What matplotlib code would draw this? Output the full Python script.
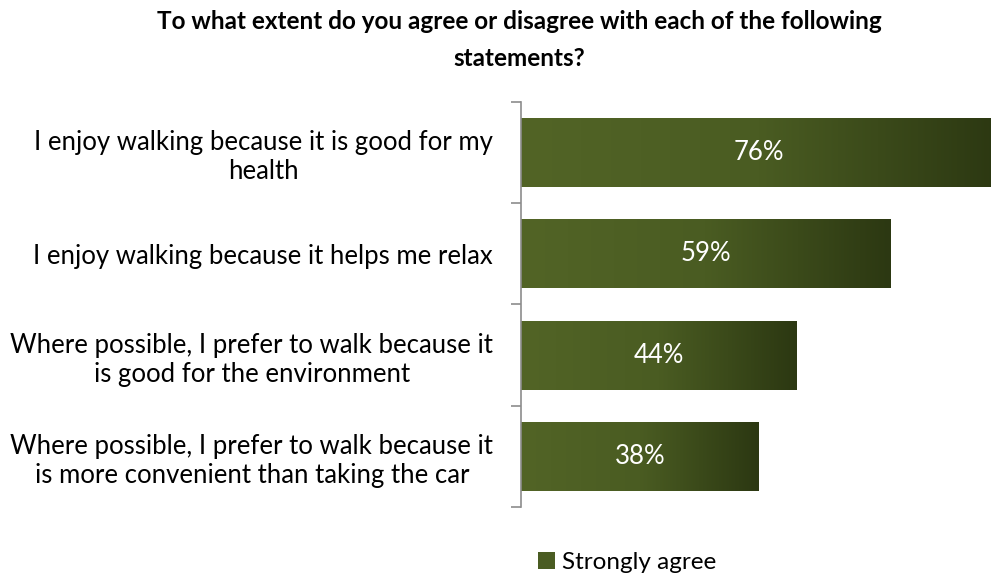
import numpy as np
import matplotlib.pyplot as plt
from matplotlib.colors import LinearSegmentedColormap
from matplotlib.patches import Rectangle

plt.rcParams['font.family'] = ['Lato', 'DejaVu Sans']

title = 'To what extent do you agree or disagree with each of the following\nstatements?'
categories = [
    'I enjoy walking because it is good for my\nhealth',
    'I enjoy walking because it helps me relax',
    'Where possible, I prefer to walk because it\nis good for the environment',
    'Where possible, I prefer to walk because it\nis more convenient than taking the car',
]
values = [76, 59, 44, 38]
series_name = 'Strongly agree'

green = LinearSegmentedColormap.from_list('green', ['#526426', '#4a5c22', '#2c3812'])
grad = np.linspace(0, 1, 256).reshape(1, -1)

fig = plt.figure(figsize=(9.91, 5.75), dpi=100)
ax = fig.add_axes([0.5257, 0.1183, 0.4743, 0.7043])

y = np.arange(len(categories))
bar_h = 0.68
bars = ax.barh(y, values, height=bar_h, color='none', edgecolor='none')

# gradient fill for each bar
for b, v in zip(bars, values):
    x0, y0 = b.get_x(), b.get_y()
    ax.imshow(grad, cmap=green, aspect='auto', interpolation='bicubic',
              extent=[x0, x0 + b.get_width(), y0 + b.get_height(), y0], zorder=2)
    ax.text(v / 2, b.get_y() + b.get_height() / 2, f'{v}%', ha='center', va='center',
            color='white', fontsize=18.5, zorder=3)

ax.set_xlim(0, 75.1)
ax.set_ylim(len(categories) - 0.5, -0.5)
ax.set_xticks([])

ax.set_yticks(y)
ax.set_yticklabels(categories, fontsize=18.5, multialignment='center')
ax.tick_params(axis='y', which='major', length=0, pad=20)
ax.set_yticks(np.arange(-0.5, len(categories)), minor=True)
ax.tick_params(axis='y', which='minor', length=7, width=1.2, color='#8c8c8c', direction='out')

for side in ['top', 'right', 'bottom']:
    ax.spines[side].set_visible(False)
ax.spines['left'].set_color('#8c8c8c')
ax.spines['left'].set_linewidth(1.2)

fig.text(0.524, 0.983, title, ha='center', va='top', fontsize=17.5, fontweight='bold',
         linespacing=1.75)

handle = Rectangle((0, 0), 1, 1, facecolor='#4a5c22')
fig.legend([handle], [series_name], loc='center', bbox_to_anchor=(0.633, 0.022),
           frameon=False, fontsize=17.5, handlelength=0.7, handleheight=0.7,
           handletextpad=0.3)

fig.savefig('out.png', dpi=100)
